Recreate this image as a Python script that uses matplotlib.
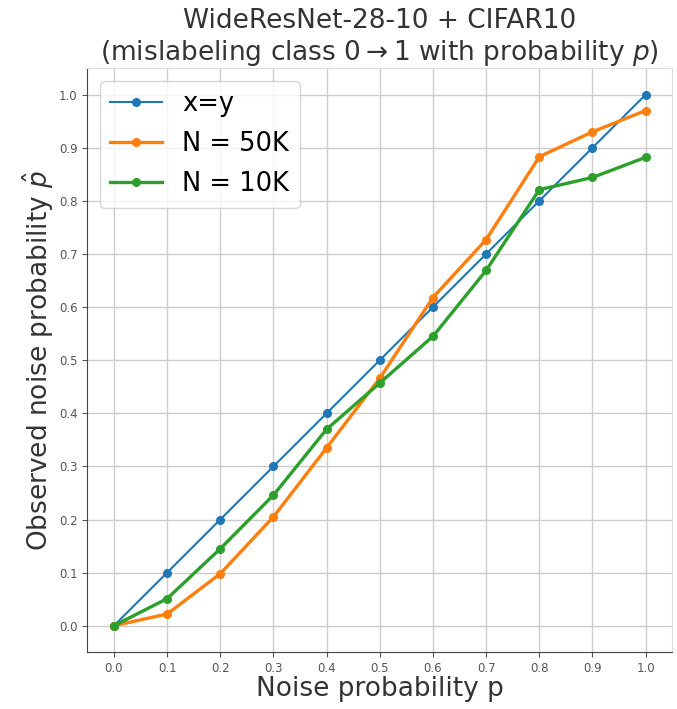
import numpy as np
import matplotlib
matplotlib.use('Agg')
import matplotlib.pyplot as plt

p = [0.0, 0.1, 0.2, 0.3, 0.4, 0.5, 0.6, 0.7, 0.8, 0.9, 1.0]
identity = [0.0, 0.1, 0.2, 0.3, 0.4, 0.5, 0.6, 0.7, 0.8, 0.9, 1.0]
n50k = [0.0, 0.022, 0.098, 0.205, 0.335, 0.466, 0.618, 0.727, 0.883, 0.930, 0.970]
n10k = [0.0, 0.051, 0.145, 0.246, 0.370, 0.457, 0.545, 0.669, 0.821, 0.844, 0.882]
ticks = [0.0, 0.1, 0.2, 0.3, 0.4, 0.5, 0.6, 0.7, 0.8, 0.9, 1.0]

fig = plt.figure(figsize=(6.77, 7.09), dpi=100)
ax = fig.add_axes([0.129, 0.08, 0.864, 0.824])

ax.plot(p, identity, '-o', color='#1f77b4', lw=1.5, ms=5.5, label='x=y')
ax.plot(p, n50k, '-o', color='#ff7f0e', lw=2.4, ms=5.5, label='N = 50K')
ax.plot(p, n10k, '-o', color='#2ca02c', lw=2.4, ms=5.5, label='N = 10K')

ax.set_xticks(ticks)
ax.set_yticks(ticks)
ax.tick_params(labelsize=8.5, colors='#555555')
ax.grid(True, color='#cccccc', lw=1)
for s in ['top', 'right']:
    ax.spines[s].set_color('#dddddd')
for s in ['left', 'bottom']:
    ax.spines[s].set_color('#444444')

ax.set_xlabel('Noise probability p', fontsize=19, color='#333333', labelpad=1)
ax.set_ylabel(r'Observed noise probability $\hat{p}$', fontsize=19, color='#333333', labelpad=2)
ax.set_title('WideResNet-28-10 + CIFAR10\n(mislabeling class 0$\\rightarrow$1 with probability $p$)',
             fontsize=19, color='#333333', pad=4)
ax.legend(fontsize=18.5, loc='upper left', framealpha=0.8, labelspacing=0.55)

fig.savefig('out.png')
